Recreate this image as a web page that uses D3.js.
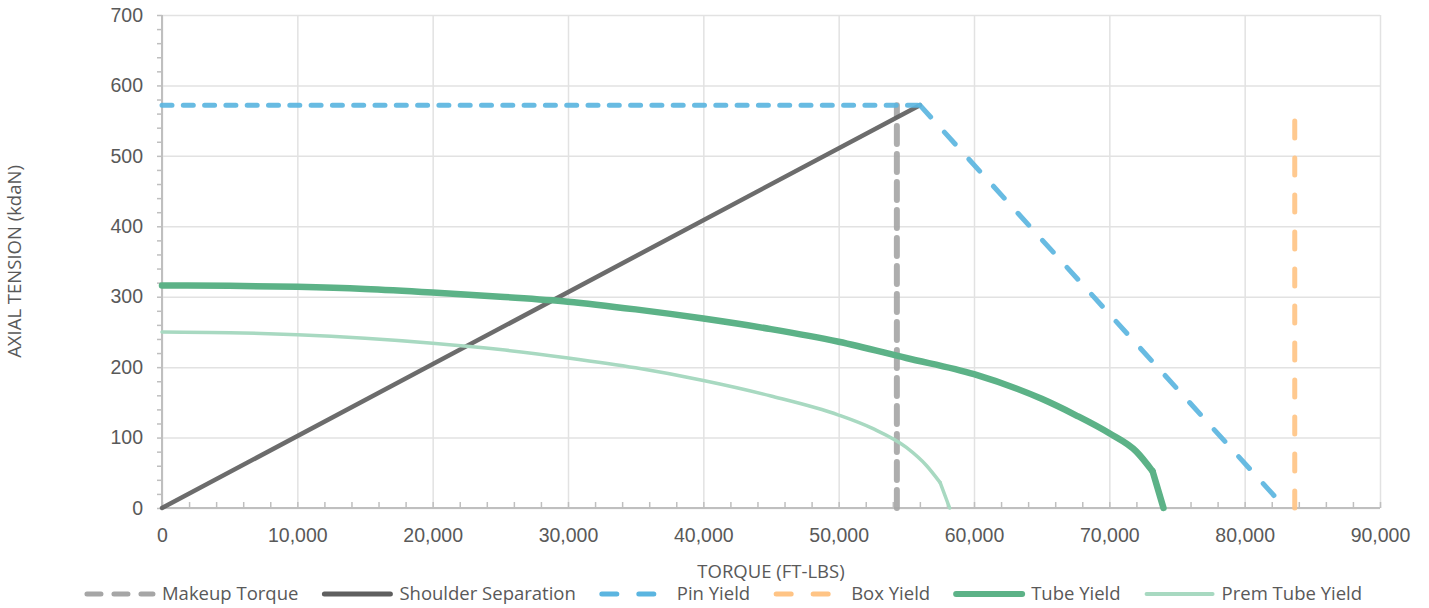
<!DOCTYPE html>
<html>
<head>
<meta charset="utf-8">
<script src="https://cdn.jsdelivr.net/npm/d3@7"></script>
<style>
  body { margin: 0; background: #fff; }
  svg { font-family: "Open Sans", sans-serif; }
</style>
</head>
<body>
<div id="chart"></div>
<script>
// torque in ft-lbs, tension in kdaN
var makeupTorque = [[54300, 0], [54300, 572]];
var shoulderSeparation = [[0, 0], [56000, 572]];
var pinYieldFlat = [[0, 572], [56000, 572]];
var pinYieldSlope = [[56000, 572], [83000, 0]];
var boxYield = [[83700, 0], [83700, 553]];
// curved part up to the knee, then a straight drop to zero
var tubeYield = [[0, 316], [5000, 315.5], [10000, 314], [15000, 311], [20000, 306], [25000, 300],
  [30000, 293], [35000, 282], [40000, 269], [45000, 254], [50000, 236], [55000, 213],
  [60000, 190], [65000, 155], [67500, 132], [70000, 106], [72000, 80], [73200, 52]];
var tubeYieldDrop = [[73200, 52], [74000, 0]];
var premTubeYield = [[0, 250], [5000, 249], [10000, 246], [15000, 241], [20000, 234], [25000, 225],
  [30000, 213], [35000, 199], [40000, 181], [45000, 159], [50000, 132], [52500, 113],
  [55000, 86], [56500, 60], [57500, 36]];
var premTubeYieldDrop = [[57500, 36], [58200, 0]];

var xTicks = d3.range(0, 90001, 10000);
var yTicks = d3.range(0, 701, 100);

var width = 1429, height = 608;
var margin = {left: 162, right: 49, top: 15, bottom: 100};
var textColor = "#595959";

var x = d3.scaleLinear().domain([0, 90000]).range([margin.left, width - margin.right]);
var y = d3.scaleLinear().domain([0, 700]).range([height - margin.bottom, margin.top]);

var svg = d3.select("#chart").append("svg")
  .attr("width", width)
  .attr("height", height);

// grid
svg.append("g")
  .attr("transform", `translate(0, ${y(0)})`)
  .call(d3.axisBottom(x).tickValues(xTicks).tickSize(-(y(0) - y(700))).tickFormat(""))
  .call(g => g.select(".domain").remove())
  .call(g => g.selectAll(".tick line").attr("stroke", "#e2e2e2").attr("stroke-width", 1.5));

svg.append("g")
  .attr("transform", `translate(${x(0)}, 0)`)
  .call(d3.axisLeft(y).tickValues(yTicks).tickSize(-(x(90000) - x(0))).tickFormat(""))
  .call(g => g.select(".domain").remove())
  .call(g => g.selectAll(".tick line").attr("stroke", "#e2e2e2").attr("stroke-width", 1.5));

// minor ticks
svg.append("g")
  .attr("transform", `translate(0, ${y(0)})`)
  .call(d3.axisBottom(x).tickValues(d3.range(0, 90001, 2000)).tickSize(-6).tickFormat(""))
  .call(g => g.select(".domain").remove())
  .call(g => g.selectAll(".tick line").attr("stroke", "#bfbfbf").attr("stroke-width", 1.5));

svg.append("g")
  .attr("transform", `translate(${x(0)}, 0)`)
  .call(d3.axisLeft(y).tickValues(d3.range(0, 701, 20)).tickSize(5).tickFormat(""))
  .call(g => g.select(".domain").remove())
  .call(g => g.selectAll(".tick line").attr("stroke", "#bfbfbf").attr("stroke-width", 1.5));

// axis lines + labels
var xAxis = svg.append("g")
  .attr("transform", `translate(0, ${y(0)})`)
  .call(d3.axisBottom(x).tickValues(xTicks).tickSize(0).tickPadding(20).tickFormat(d3.format(",")));
var yAxis = svg.append("g")
  .attr("transform", `translate(${x(0)}, 0)`)
  .call(d3.axisLeft(y).tickValues(yTicks).tickSize(0).tickPadding(19));

[xAxis, yAxis].forEach(g => {
  g.select(".domain").attr("stroke", "#bfbfbf").attr("stroke-width", 2);
  g.selectAll(".tick text")
    .attr("fill", textColor)
    .style("font-size", "19.5px");
});
yAxis.select(".domain").attr("d", `M0,${y(0)}V${y(700)}`);
xAxis.select(".domain").attr("d", `M${x(0)},0H${x(90000)}`);

svg.append("text")
  .attr("x", (x(0) + x(90000)) / 2)
  .attr("y", 578)
  .attr("text-anchor", "middle")
  .attr("fill", textColor)
  .style("font-size", "18.5px")
  .text("TORQUE (FT-LBS)");

svg.append("text")
  .attr("transform", `translate(21, ${(y(0) + y(700)) / 2}) rotate(-90)`)
  .attr("text-anchor", "middle")
  .attr("fill", textColor)
  .style("font-size", "18.5px")
  .text("AXIAL TENSION (kdaN)");

// series
var line = d3.line().x(d => x(d[0])).y(d => y(d[1]));
var smooth = d3.line().x(d => x(d[0])).y(d => y(d[1])).curve(d3.curveMonotoneX);

var series = [
  {name: "Makeup Torque", data: [makeupTorque], color: "#a6a6a6", width: 6, dash: ["18,10"], legendDash: "14,13", legendWidth: 5},
  {name: "Shoulder Separation", data: [shoulderSeparation], color: "#5f5f5f", width: 4.5, dash: [null], legendDash: null, legendWidth: 5},
  {name: "Pin Yield", data: [pinYieldFlat, pinYieldSlope], color: "#5bb5e0", width: 5, dash: ["10,11.3", "16,20.5"], legendDash: "15,22", legendWidth: 5},
  {name: "Box Yield", data: [boxYield], color: "#ffc485", width: 5, dash: ["17,20"], legendDash: "15,22", legendWidth: 5},
  {name: "Tube Yield", data: [tubeYield, tubeYieldDrop], color: "#5cb287", width: 6.5, dash: [null, null], legendDash: null, legendWidth: 6, curved: true},
  {name: "Prem Tube Yield", data: [premTubeYield, premTubeYieldDrop], color: "#a8d9c1", width: 3.5, dash: [null, null], legendDash: null, legendWidth: 4, curved: true}
];

series.forEach(s => {
  s.data.forEach((pts, i) => {
    svg.append("path")
      .datum(pts)
      .attr("fill", "none")
      .attr("stroke", s.color)
      .attr("stroke-width", s.width)
      .attr("stroke-linecap", "round")
      .attr("stroke-linejoin", "round")
      .attr("stroke-dasharray", s.dash[i])
      .attr("opacity", s.curved ? 1 : 0.92)
      .attr("d", s.curved && i === 0 ? smooth : line);
  });
});

// legend
var legend = svg.append("g").attr("transform", "translate(0, 594)");
var cursor = 0;
series.forEach(s => {
  var item = legend.append("g").attr("transform", `translate(${cursor}, 0)`);
  item.append("line")
    .attr("x1", 3).attr("x2", 69)
    .attr("stroke", s.color)
    .attr("stroke-width", s.legendWidth)
    .attr("stroke-linecap", "round")
    .attr("stroke-dasharray", s.legendDash);
  var t = item.append("text")
    .attr("x", 78)
    .attr("dy", "0.35em")
    .attr("fill", textColor)
    .style("font-size", "18.5px")
    .text(s.name);
  cursor += 78 + t.node().getComputedTextLength() + 23;
});
cursor -= 23;
legend.attr("transform", `translate(${723 - cursor / 2}, 594)`);
</script>
</body>
</html>
